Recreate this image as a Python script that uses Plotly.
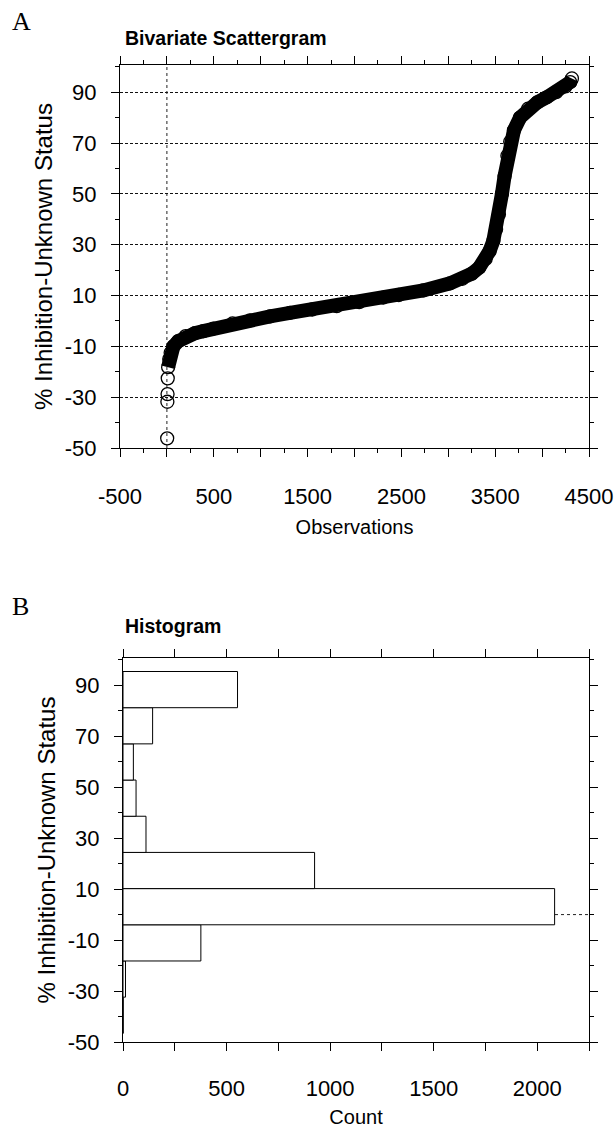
import plotly.graph_objects as go

obs_index = [3, 5, 7, 9, 13, 25, 40, 70, 120, 200, 300, 389, 495, 700, 886, 1100,
             1312, 1550, 1810, 2050, 2307, 2473, 2733, 3018, 3150, 3250, 3330, 3398,
             3440, 3480, 3509, 3540, 3572, 3600, 3630, 3660, 3700, 3765, 3850, 3950,
             4050, 4150, 4250, 4300, 4318]
pct_inhibition = [-46.2, -31.8, -28.8, -22.6, -18.2, -15.0, -12.5, -10.0, -8.0, -6.0,
                  -4.8, -4.0, -3.0, -1.0, 0.2, 1.8, 3.2, 4.5, 5.8, 7.4, 9.2, 10.2, 12.0,
                  14.8, 16.6, 18.6, 21.0, 24.4, 27.5, 31.5, 36.0, 42.0, 50.0, 57.0, 65.0,
                  70.5, 75.0, 80.0, 83.5, 86.0, 88.0, 90.0, 92.3, 94.0, 95.4]

# ---------------- Panel B: histogram (bin edges and counts)
bin_edges = [-46.6, -32.4, -18.2, -4.0, 10.2, 24.4, 38.6, 52.8, 67.0, 81.2, 95.4]
bin_counts = [1, 12, 376, 2084, 925, 111, 63, 50, 143, 553]

# ---------------- tick labels
y_tickvals = [-50, -30, -10, 10, 30, 50, 70, 90]
y_ticktext = ["-50", "-30", "-10", "10", "30", "50", "70", "90"]
y_minorvals = [-40, -20, 0, 20, 40, 60, 80, 100]
obs_tickvals = [-500, 0, 500, 1000, 1500, 2000, 2500, 3000, 3500, 4000, 4500]
obs_ticktext = ["-500", "", "500", "", "1500", "", "2500", "", "3500", "", "4500"]
obs_minorvals = [-250, 250, 750, 1250, 1750, 2250, 2750, 3250, 3750, 4250]
count_tickvals = [0, 250, 500, 750, 1000, 1250, 1500, 1750, 2000, 2250]
count_ticktext = ["0", "", "500", "", "1000", "", "1500", "", "2000", ""]

W, H = 615, 1129
FONT = "Liberation Sans, Arial, Helvetica, sans-serif"
SERIF = "Liberation Serif, Times New Roman, serif"

bin_centers = [(a + b) / 2 for a, b in zip(bin_edges[:-1], bin_edges[1:])]
bin_widths = [b - a for a, b in zip(bin_edges[:-1], bin_edges[1:])]

fig = go.Figure()

# thick band under the circles (dense overlapping markers in the original)
fig.add_trace(go.Scatter(
    x=obs_index[4:], y=pct_inhibition[4:], mode="lines",
    line=dict(color="black", width=14),
    xaxis="x", yaxis="y", hoverinfo="skip", showlegend=False))
fig.add_trace(go.Scatter(
    x=obs_index, y=pct_inhibition, mode="markers",
    marker=dict(symbol="circle-open", size=13, color="black", line=dict(width=1.3)),
    xaxis="x", yaxis="y", showlegend=False))

fig.add_trace(go.Bar(
    y=bin_centers, x=bin_counts, width=bin_widths, orientation="h",
    marker=dict(color="white", line=dict(color="black", width=1)),
    xaxis="x2", yaxis="y2", showlegend=False))

tickfont = dict(family=FONT, size=22, color="black")
common_axis = dict(showline=True, linecolor="black", linewidth=1.2, mirror="ticks",
                   ticks="outside", ticklen=8, tickwidth=1, tickcolor="black",
                   tickfont=tickfont, zeroline=False, automargin=False)

def px_x(p):
    return p / W

def px_y(p):
    return 1 - p / H

fig.update_layout(
    width=W, height=H,
    margin=dict(l=0, r=0, t=0, b=0, autoexpand=False),
    paper_bgcolor="white", plot_bgcolor="white",
    showlegend=False,
    xaxis=dict(domain=[px_x(120), px_x(589)], anchor="y", range=[-500, 4500],
               tickvals=obs_tickvals, ticktext=obs_ticktext, showgrid=False,
               minor=dict(tickvals=obs_minorvals, ticks="outside", ticklen=4,
                          tickcolor="black", showgrid=False),
               ticklabelstandoff=20,
               title=dict(text="Observations", font=dict(family=FONT, size=20, color="black"),
                          standoff=12),
               **common_axis),
    yaxis=dict(domain=[px_y(448), px_y(65)], anchor="x", range=[-50, 100.7],
               tickvals=y_tickvals, ticktext=y_ticktext,
               showgrid=True, gridcolor="#111", griddash="3px,2px", gridwidth=1,
               minor=dict(tickvals=y_minorvals, ticks="outside", ticklen=4,
                          tickcolor="black", showgrid=False),
               ticklabelstandoff=10,
               title=dict(text="% Inhibition-Unknown Status",
                          font=dict(family=FONT, size=24, color="black"), standoff=5),
               **common_axis),
    xaxis2=dict(domain=[px_x(123), px_x(589)], anchor="y2", range=[0, 2250],
                tickvals=count_tickvals, ticktext=count_ticktext, showgrid=False,
                ticklabelstandoff=18,
                title=dict(text="Count", font=dict(family=FONT, size=20, color="black"),
                           standoff=10),
                **common_axis),
    yaxis2=dict(domain=[px_y(1042), px_y(658)], anchor="x2", range=[-50, 100.7],
                tickvals=y_tickvals, ticktext=y_ticktext, showgrid=False,
                minor=dict(tickvals=y_minorvals, ticks="outside", ticklen=4,
                           tickcolor="black", showgrid=False),
                ticklabelstandoff=10,
                title=dict(text="% Inhibition-Unknown Status",
                           font=dict(family=FONT, size=24, color="black"), standoff=5),
                **common_axis),
    shapes=[
        dict(type="line", xref="x", yref="y domain", x0=0, x1=0, y0=0, y1=1,
             line=dict(color="#222", width=1, dash="dot"), layer="below"),
        dict(type="line", xref="x2 domain", yref="y2", x0=0, x1=1, y0=0, y1=0,
             line=dict(color="#222", width=1, dash="dot"), layer="below"),
    ],
    annotations=[
        dict(text="A", xref="paper", yref="paper", x=px_x(10), y=px_y(22),
             xanchor="left", yanchor="middle", showarrow=False,
             font=dict(family=SERIF, size=26, color="black")),
        dict(text="B", xref="paper", yref="paper", x=px_x(10), y=px_y(606),
             xanchor="left", yanchor="middle", showarrow=False,
             font=dict(family=SERIF, size=26, color="black")),
        dict(text="<b>Bivariate Scattergram</b>", xref="paper", yref="paper",
             x=px_x(123), y=px_y(38), xanchor="left", yanchor="middle", showarrow=False,
             font=dict(family=FONT, size=19.5, color="black")),
        dict(text="<b>Histogram</b>", xref="paper", yref="paper",
             x=px_x(123), y=px_y(626), xanchor="left", yanchor="middle", showarrow=False,
             font=dict(family=FONT, size=19.5, color="black")),
    ],
)

fig.write_html("out.html")
